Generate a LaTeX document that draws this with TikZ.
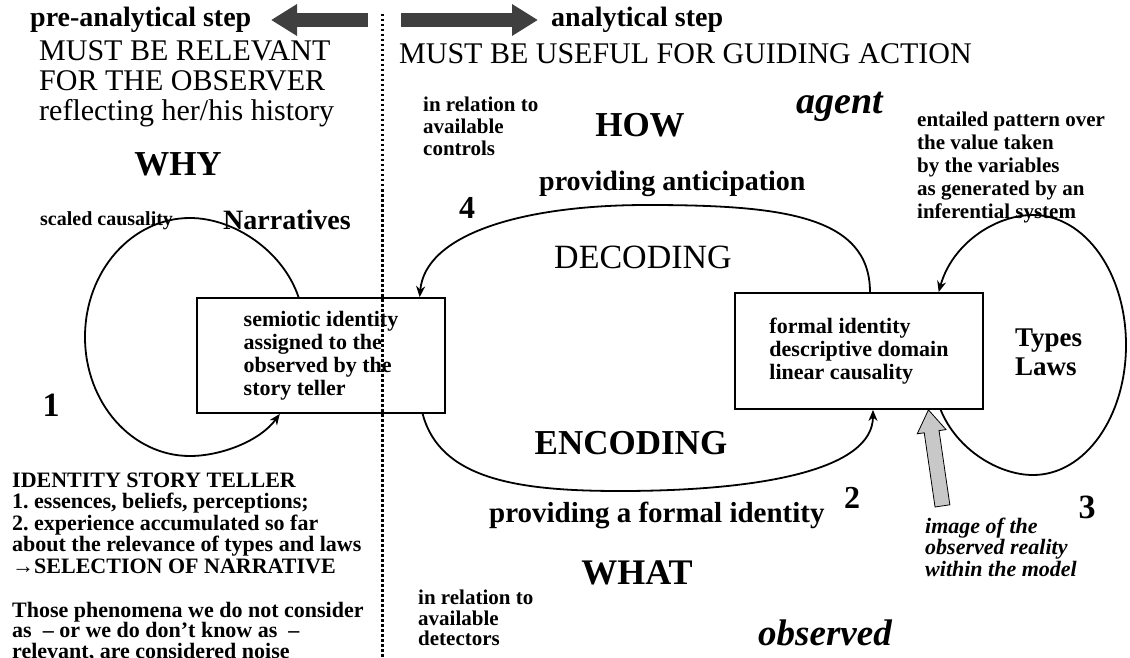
\documentclass[tikz,border=0pt]{standalone}
\usepackage{fontspec}
\setmainfont{Liberation Serif}
\usepackage{amsmath,amssymb}
\usetikzlibrary{arrows.meta,calc}

\definecolor{arrowgray}{HTML}{3F3F3F}
\definecolor{realitygray}{HTML}{C8C8C8}

\begin{document}
\begin{tikzpicture}[x=1pt,y=-1pt]
				\tikzstyle{flow}=[draw, line width=1.8pt, -{Stealth[length=11pt,width=9pt]}]
				\tikzstyle{bigarrow}=[draw=arrowgray, line width=14pt, -{Triangle[length=26pt,width=30pt]}]
				\tikzstyle{box}=[draw, line width=1.8pt, minimum width=248pt, align=left, inner sep=0pt]
				\tikzstyle{head}=[font=\fontsize{30}{30}\selectfont, align=left, anchor=west, inner sep=0pt]
				\tikzstyle{note}=[font=\bfseries\fontsize{21}{22}\selectfont, align=left, anchor=west, inner sep=0pt]
				\tikzstyle{big}=[font=\bfseries\fontsize{35}{35}\selectfont, inner sep=0pt]
				\tikzstyle{num}=[font=\bfseries\fontsize{34}{34}\selectfont, inner sep=0pt]
				\tikzstyle{mid}=[font=\bfseries\fontsize{28}{28}\selectfont, anchor=west, inner sep=0pt]
				\newcommand\XDiv{382}
				\newcommand\YArrow{20}

				\useasboundingbox (0,0) rectangle (1130,658);

				% Divider
				\draw [line width=3pt, dash pattern=on 2.5pt off 2.5pt] (\XDiv,14) -- (\XDiv,658);

				% Steps
				\node [mid] at (30,\YArrow) (pre) {pre-analytical step};
				\node [mid] at (551,\YArrow) (ana) {analytical step};
				\coordinate (preTail) at (368,\YArrow);
				\coordinate (preTip) at (271,\YArrow);
				\coordinate (anaTail) at (401,\YArrow);
				\coordinate (anaTip) at (538,\YArrow);
				\path [bigarrow] (preTail) -- (preTip);
				\path [bigarrow] (anaTail) -- (anaTip);

				\node [head] at (39,84) (relevant) {MUST BE RELEVANT\\FOR THE OBSERVER\\reflecting her/his history};
				\node [head] at (399,54) (useful) {MUST BE USEFUL FOR GUIDING ACTION};

				% Questions
				\node [big] at (178,164) (why) {WHY};
				\node [big] at (640,125) (how) {HOW};
				\node [font=\bfseries\fontsize{36}{36}\selectfont, inner sep=0pt] at (637,573) (what) {WHAT};
				\node [font=\bfseries\itshape\fontsize{38}{38}\selectfont, inner sep=0pt] at (840,107) (agent) {agent};
				\node [font=\bfseries\itshape\fontsize{37}{37}\selectfont, inner sep=0pt] at (825,633) (observed) {observed};

				% Notes
				\node [note] at (423,126) (controls) {in relation to\\available\\controls};
				\node [note, font=\bfseries\fontsize{21}{20.5}\selectfont] at (418,618) (detectors) {in relation to\\available\\detectors};
				\node [note, font=\bfseries\fontsize{21}{23}\selectfont] at (917,167) (pattern) {entailed pattern over\\the value taken\\by the variables\\as generated by an\\inferential system};
				\node [note, font=\bfseries\fontsize{20}{20}\selectfont] at (40,221) (scaled) {scaled causality};
				\node [mid] at (223,220) (narr) {Narratives};
				\node [mid] at (539,184) (antic) {providing anticipation};
				\node [mid, font=\bfseries\fontsize{29}{29}\selectfont] at (489,515) (formal) {providing a formal identity};
				\node [note, font=\bfseries\itshape\fontsize{22}{21.5}\selectfont] at (925,547) (image) {image of the\\observed reality\\within the model};
				\node [note, font=\bfseries\fontsize{22}{21.5}\selectfont] at (12,523) (teller) {IDENTITY STORY TELLER\\1.\ essences, beliefs, perceptions;\\2.\ experience accumulated so far\\about the relevance of types and laws\\→SELECTION OF NARRATIVE};
				\node [note, font=\bfseries\fontsize{22}{20.5}\selectfont] at (12,632) (noise) {Those phenomena we do not consider\\as \ -- or we do don't know as \ --\\relevant, are considered noise};

				% Codings
				\node [font=\fontsize{34}{34}\selectfont, inner sep=0pt] at (643,257) (decoding) {DECODING};
				\node [big] at (631,443) (encoding) {ENCODING};

				% Numbers
				\node [num] at (51,405) (one) {1};
				\node [num, font=\bfseries\fontsize{32}{32}\selectfont] at (852,498) (two) {2};
				\node [num] at (1087,507) (three) {3};
				\node [num, font=\bfseries\fontsize{32}{32}\selectfont] at (467,208) (four) {4};

				% Identities
				\node [box, minimum height=115pt, font=\bfseries\fontsize{22}{23}\selectfont] at (321,355.5) (sem) {semiotic identity\\assigned to the\\observed by the\\story teller};
				\node [box, minimum height=116pt, font=\bfseries\fontsize{22}{23}\selectfont] at (859,351) (form) {formal identity\\descriptive domain\\linear causality};
				\node [font=\bfseries\fontsize{27}{29}\selectfont, align=left, anchor=west, inner sep=0pt] at (1015,352) (types) {Types\\Laws};

				% Path Arrows
				\coordinate (semA) at ($(sem.north west)!0.41!(sem.north east)$);
				\coordinate (semB) at ($(sem.south west)!0.335!(sem.south east)$);
				\coordinate (semC) at ($(sem.north west)!0.895!(sem.north east)$);
				\coordinate (semD) at ($(sem.south west)!0.907!(sem.south east)$);
				\coordinate (formA) at ($(form.north west)!0.544!(form.north east)$);
				\coordinate (formB) at ($(form.south west)!0.556!(form.south east)$);
				\coordinate (formC) at ($(form.south west)!0.827!(form.south east)$);
				\coordinate (formD) at ($(form.north west)!0.819!(form.north east)$);
				\coordinate (formE) at ($(form.south west)!0.778!(form.south east)$);

				\path [flow] (semA) .. controls (283,251) and (234,218) .. (190,218) .. controls (132,218) and (85,271) .. (85,337) .. controls (85,403) and (132,456) .. (190,456) .. controls (221,456) and (260,441) .. (semB);
				\path [flow] (formA) .. controls (870,215) and (780,205) .. (647,205) .. controls (520,205) and (425,235) .. (semC);
				\path [flow] (semD) .. controls (440,480) and (520,491) .. (620,491) .. controls (760,491) and (873,470) .. (formB);
				\path [flow] (formC) .. controls (957,450) and (999,475) .. (1033,475) .. controls (1085,475) and (1126,417) .. (1126,345) .. controls (1126,273) and (1085,215) .. (1033,215) .. controls (995,215) and (952,244) .. (formD);

				% Reality
				\filldraw [fill=realitygray, draw=black, line width=0.8pt] (formE) -- ($(formE)+(17.6,19.7)$) -- ($(formE)+(10.6,20.7)$) -- ($(formE)+(21.4,94.9)$) -- ($(formE)+(6.6,97.1)$) -- ($(formE)+(-4.2,22.9)$) -- ($(formE)+(-11.2,23.9)$) -- cycle;

			\end{tikzpicture}
\end{document}
